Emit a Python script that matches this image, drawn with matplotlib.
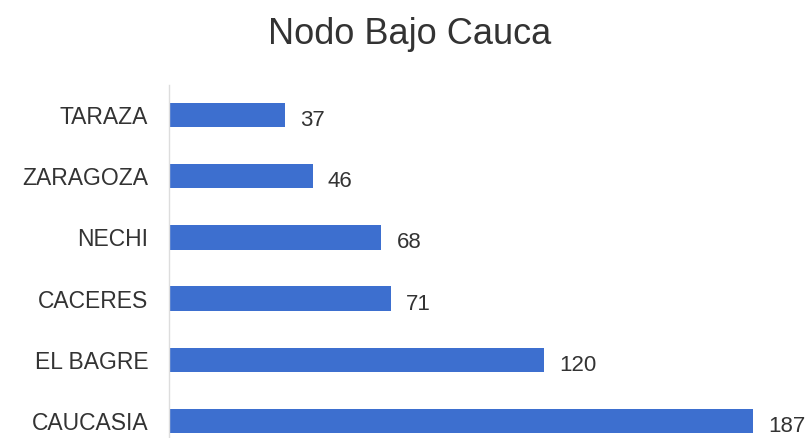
import matplotlib.pyplot as plt

categories = ["CAUCASIA", "EL BAGRE", "CACERES", "NECHI", "ZARAGOZA", "TARAZA"]
values = [187, 120, 71, 68, 46, 37]

plt.rcParams['font.family'] = ['Liberation Sans', 'DejaVu Sans']

fig = plt.figure(figsize=(8.12, 4.38), dpi=100)
ax = fig.add_axes([169 / 812, 0, 625 / 812, (438 - 85) / 438])

ypos = list(range(len(categories)))
ax.barh(ypos, values, height=0.4, color='#3d6fcf')

# value labels just right of each bar
for y, v in zip(ypos, values):
    ax.annotate(str(v), (v, y), xytext=(15, -3), textcoords='offset pixels',
                va='center_baseline', ha='left', fontsize=16, color='#333333')

ax.set_xlim(0, 200)
ax.set_ylim(-0.278, 5.49)
ax.set_yticks(ypos)
ax.set_yticklabels(categories, fontsize=16.5, color='#333333')
ax.tick_params(axis='y', length=0, pad=15)
ax.set_xticks([])
for s in ['top', 'right', 'bottom']:
    ax.spines[s].set_visible(False)
ax.spines['left'].set_color('#dddddd')
ax.spines['left'].set_linewidth(1)

fig.text(410 / 812, 1 - 35 / 438, "Nodo Bajo Cauca", ha='center', va='center',
         fontsize=26, color='#333333')

fig.savefig('out.png', dpi=100)
